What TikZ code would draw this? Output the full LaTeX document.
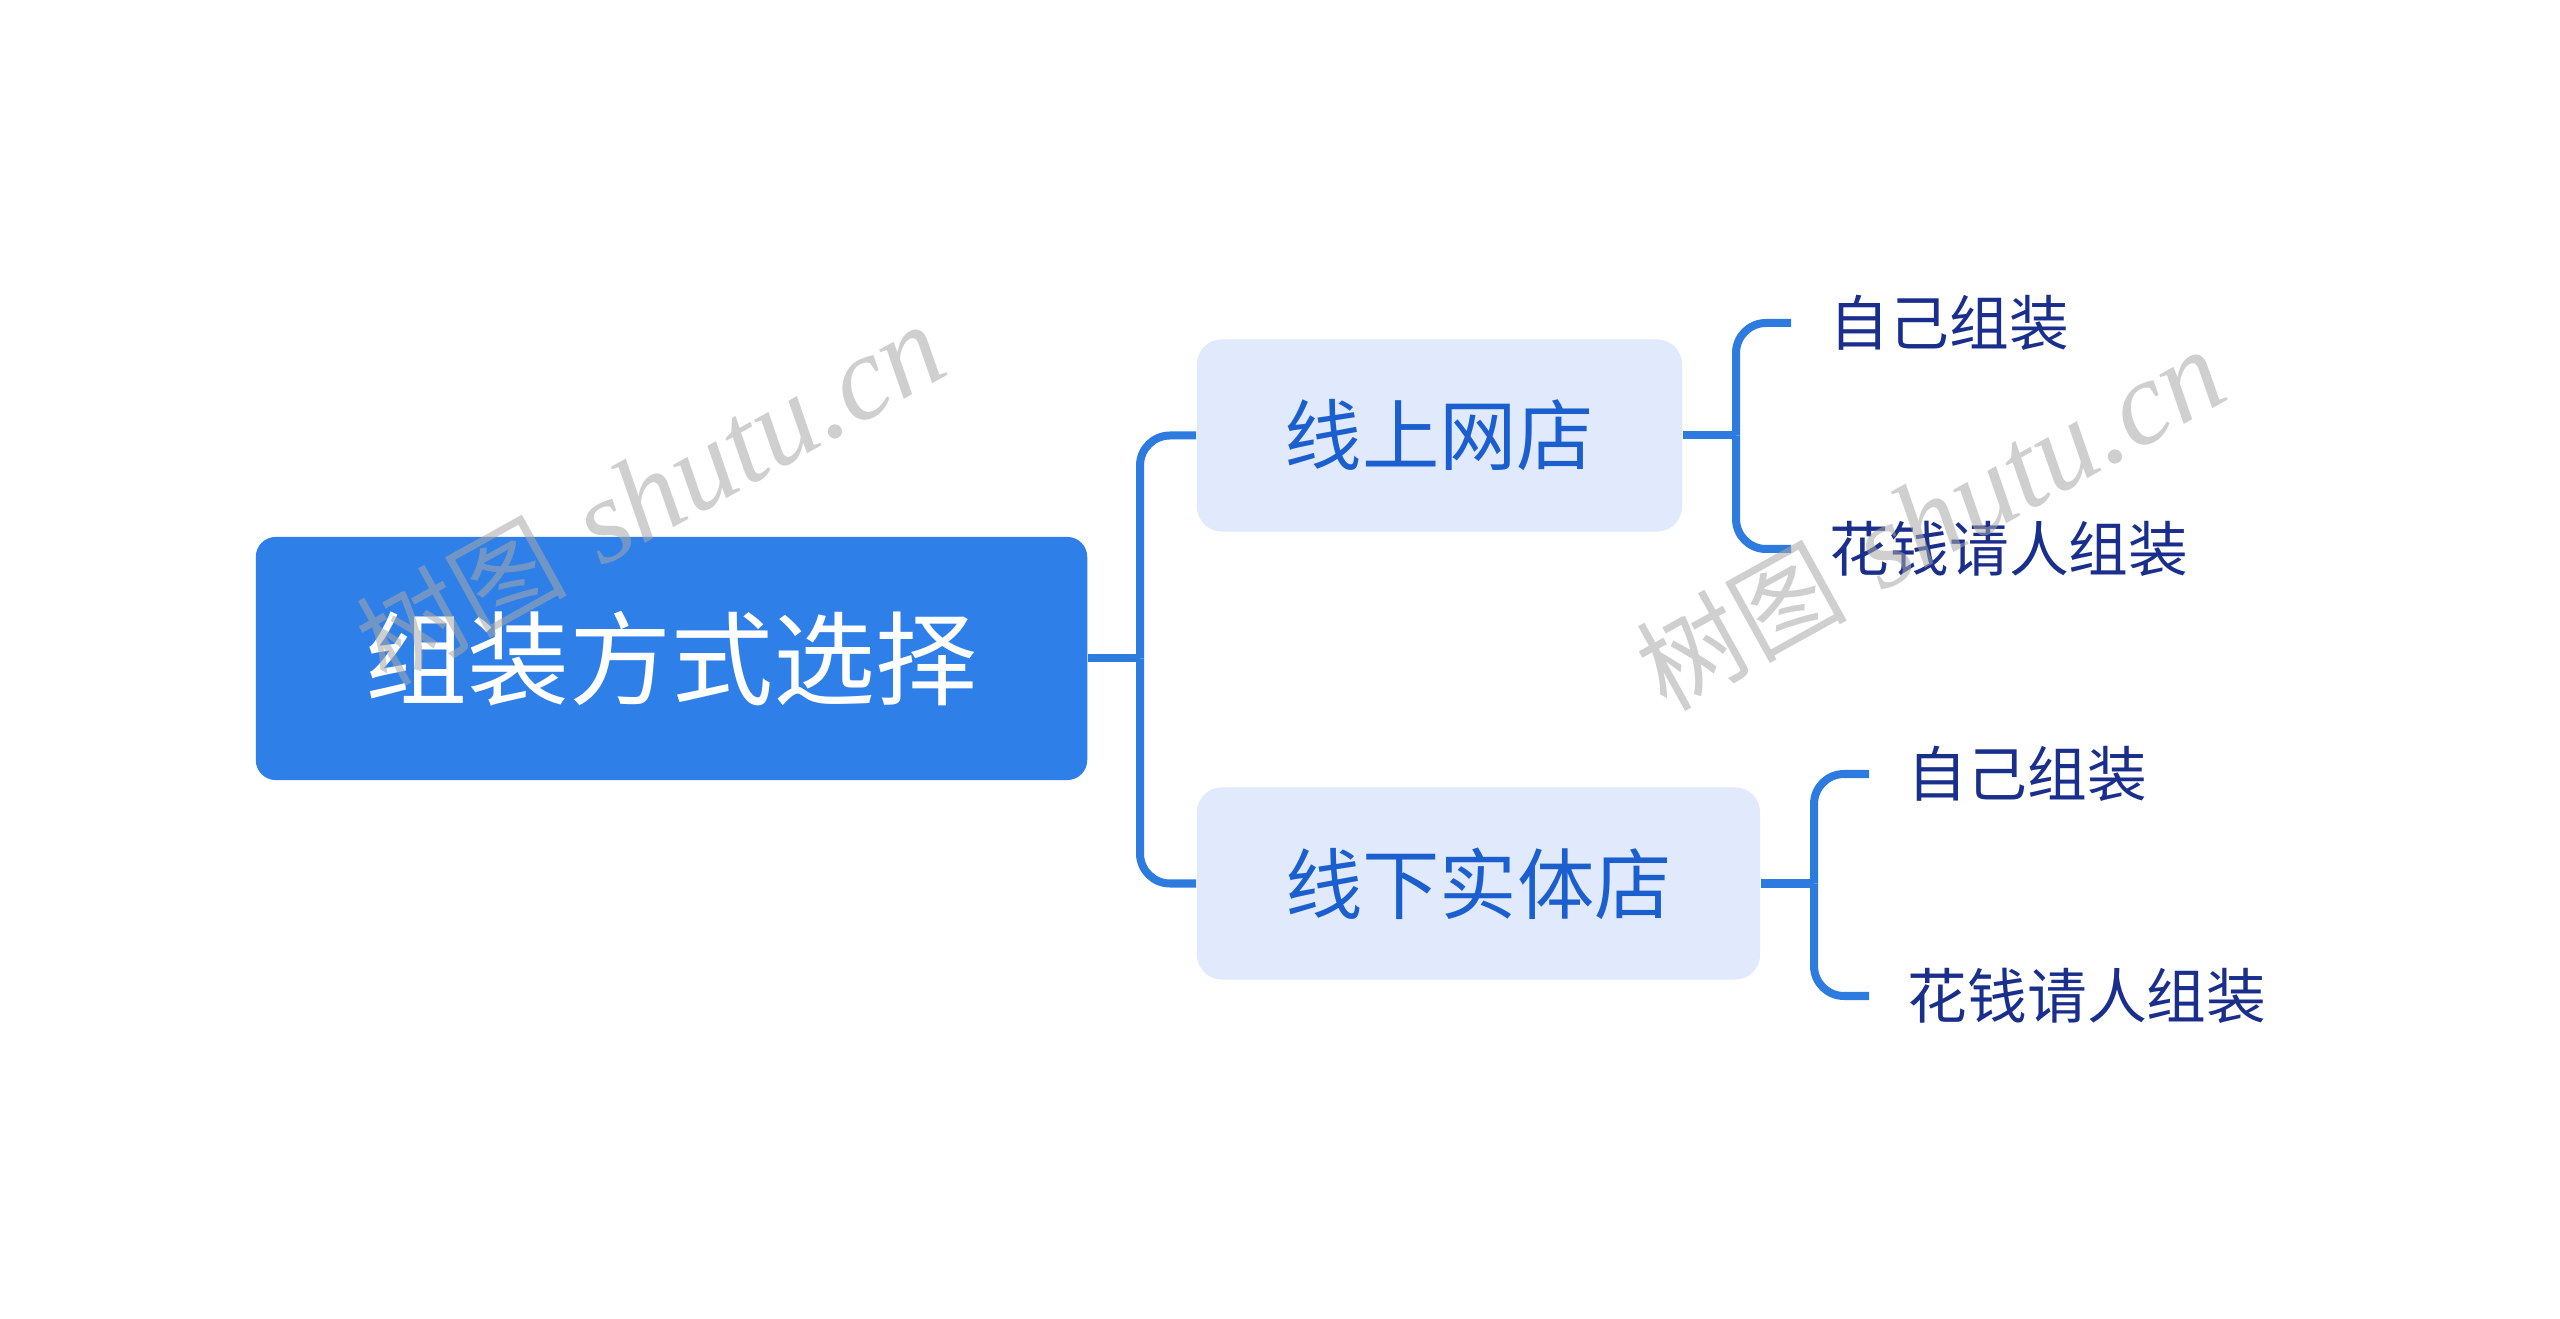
\documentclass[tikz,border=0pt]{standalone}
\usepackage{fontspec}
\setmainfont{Liberation Serif}
\newfontfamily\cjk{Noto Sans CJK SC}
\usetikzlibrary{positioning}
\definecolor{rootblue}{HTML}{2F7FE8}
\definecolor{childfill}{HTML}{E1E9FD}
\definecolor{childtext}{HTML}{1B5FCF}
\definecolor{leaftext}{HTML}{1A2E8C}
\definecolor{linkblue}{HTML}{2E7BE0}
\definecolor{wmgray}{HTML}{A8A8A8}
\tikzset{
  rootbox/.style={fill=rootblue, rounded corners=0.2cm, minimum width=8.31cm, minimum height=2.43cm,
    text=white, font=\cjk\fontsize{29}{34}\selectfont, inner sep=0pt},
  childbox/.style={fill=childfill, rounded corners=0.25cm, minimum height=1.92cm,
    text=childtext, font=\cjk\fontsize{22}{26}\selectfont, inner sep=0pt},
  leafnode/.style={anchor=west, text=leaftext, font=\cjk\fontsize{17}{20}\selectfont, inner xsep=0.38cm, inner ysep=0pt},
  link/.style={draw=linkblue, line width=0.08cm, rounded corners=0.3cm},
  wmark/.style={text=wmgray, opacity=0.55, rotate=29, inner sep=0pt}
}
\newcommand{\wmtext}{{\cjk\fontsize{30}{36}\selectfont 树图}\hspace{0.35cm}{\fontsize{34}{40}\selectfont\textit{shutu.cn}}}
\begin{document}
\begin{tikzpicture}[x=0.01cm, y=-0.01cm]
\useasboundingbox (0,0) rectangle (2560,1319);
\fill[white] (0,0) rectangle (2560,1319);

\node[rootbox] (root) at (671.5,658.5) {组装方式选择};
\node[childbox, minimum width=4.85cm] (c1) at (1439.5,435.5) {线上网店};
\node[childbox, minimum width=5.63cm] (c2) at (1478.5,883.5) {线下实体店};

\node[leafnode] (l11) at (1791,323) {自己组装};
\node[leafnode] (l12) at (1791,549) {花钱请人组装};
\node[leafnode] (l21) at (1869,774) {自己组装};
\node[leafnode] (l22) at (1869,996) {花钱请人组装};

\coordinate (j0) at (1140,658.5);
\coordinate (j1) at (1736,435.5);
\coordinate (j2) at (1814,883.5);

\draw[link] (root.east) -- (j0);
\draw[link] (j0) |- (c1.west);
\draw[link] (j0) |- (c2.west);

\draw[link] (c1.east) -- (j1);
\draw[link] (j1) |- (l11.west);
\draw[link] (j1) |- (l12.west);

\draw[link] (c2.east) -- (j2);
\draw[link] (j2) |- (l21.west);
\draw[link] (j2) |- (l22.west);

\node[wmark] (wm1) at (650,495) {\wmtext};
\node[wmark] (wm2) at (1930,520) {\wmtext};
\end{tikzpicture}
\end{document}
